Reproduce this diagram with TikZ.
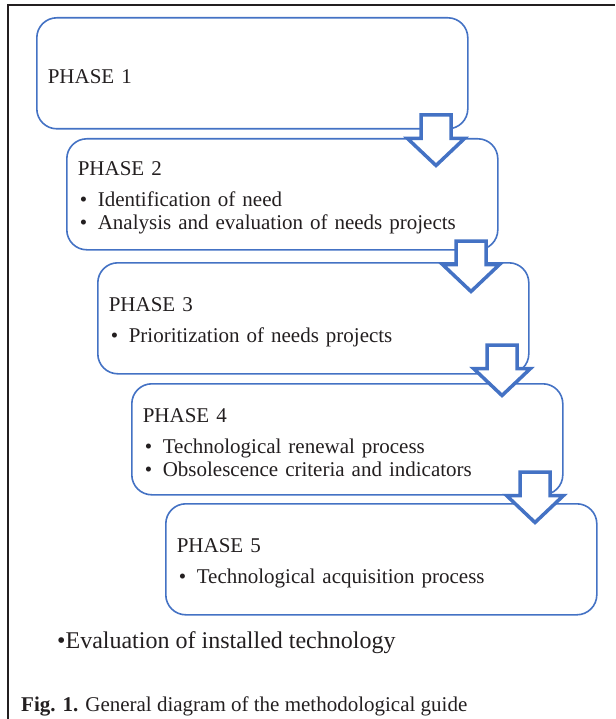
\documentclass[tikz,border=0pt]{standalone}
\usepackage{fontspec}
\setmainfont{Liberation Serif}
\usepackage{tikz}
\usetikzlibrary{positioning,calc}
\usepackage{xcolor}
\definecolor{phaseblue}{RGB}{68,114,196}
\definecolor{inkgray}{RGB}{35,31,32}
\tikzset{
    phase/.style={rectangle, rounded corners=20pt, draw=phaseblue, line width=1.6pt, fill=white, minimum width=431pt, minimum height=111pt, text width=409pt, inner xsep=11pt, align=left, anchor=north west, font=\fontsize{21}{23}\selectfont, text=inkgray},
    stepdown/.style={draw=phaseblue, line width=3.5pt, fill=white, line join=miter},
    frameline/.style={line width=2.5pt, draw=inkgray},
    note/.style={anchor=base west, inner sep=0pt, text=inkgray},
}
\newcommand{\bitem}[1]{\hspace*{2pt}\makebox[18pt][l]{\textbullet}#1}
\newcommand{\phead}[1]{\rule{0pt}{21.5pt}#1}

\begin{document}
\begin{tikzpicture}[x=1pt, y=-1pt]
    \useasboundingbox (0,0) rectangle (615,719);
    % Frame
    \draw[frameline] (8,719) -- (8,5) -- (615,5);

    % Phases
    \node[phase] (ph1) at (36,17) {\phead{PHASE 1}};
    \node[phase] (ph2) at (66,138) {\phead{PHASE 2}\\[8pt]\bitem{Identification of need}\\\bitem{Analysis and evaluation of needs projects}};
    \node[phase] (ph3) at (97,262) {\phead{PHASE 3}\\[8pt]\bitem{Prioritization of needs projects}};
    \node[phase] (ph4) at (131,383) {\phead{PHASE 4}\\[8pt]\bitem{Technological renewal process}\\\bitem{Obsolescence criteria and indicators}};
    \node[phase] (ph5) at (165,503) {\phead{PHASE 5}\\[8pt]\bitem{Technological acquisition process}};

    % Step arrows
    \foreach \cx/\ty in {436/113, 471/239, 502/343, 535/470} {
        \draw[stepdown] (\cx-15,\ty+2) -- (\cx+15,\ty+2) -- (\cx+15,\ty+25.5) -- (\cx+28.5,\ty+25.5)
            -- (\cx,\ty+52.5) -- (\cx-28.5,\ty+25.5) -- (\cx-15,\ty+25.5) -- cycle;
    }

    % Notes
    \node[note, font=\fontsize{24}{28}\selectfont] (evalnote) at (57,648.5) {\textbullet Evaluation of installed technology};
    \node[note, font=\fontsize{21}{24}\selectfont] (caption) at (21,711.5) {\textbf{Fig. 1.} General diagram of the methodological guide};
\end{tikzpicture}
\end{document}
